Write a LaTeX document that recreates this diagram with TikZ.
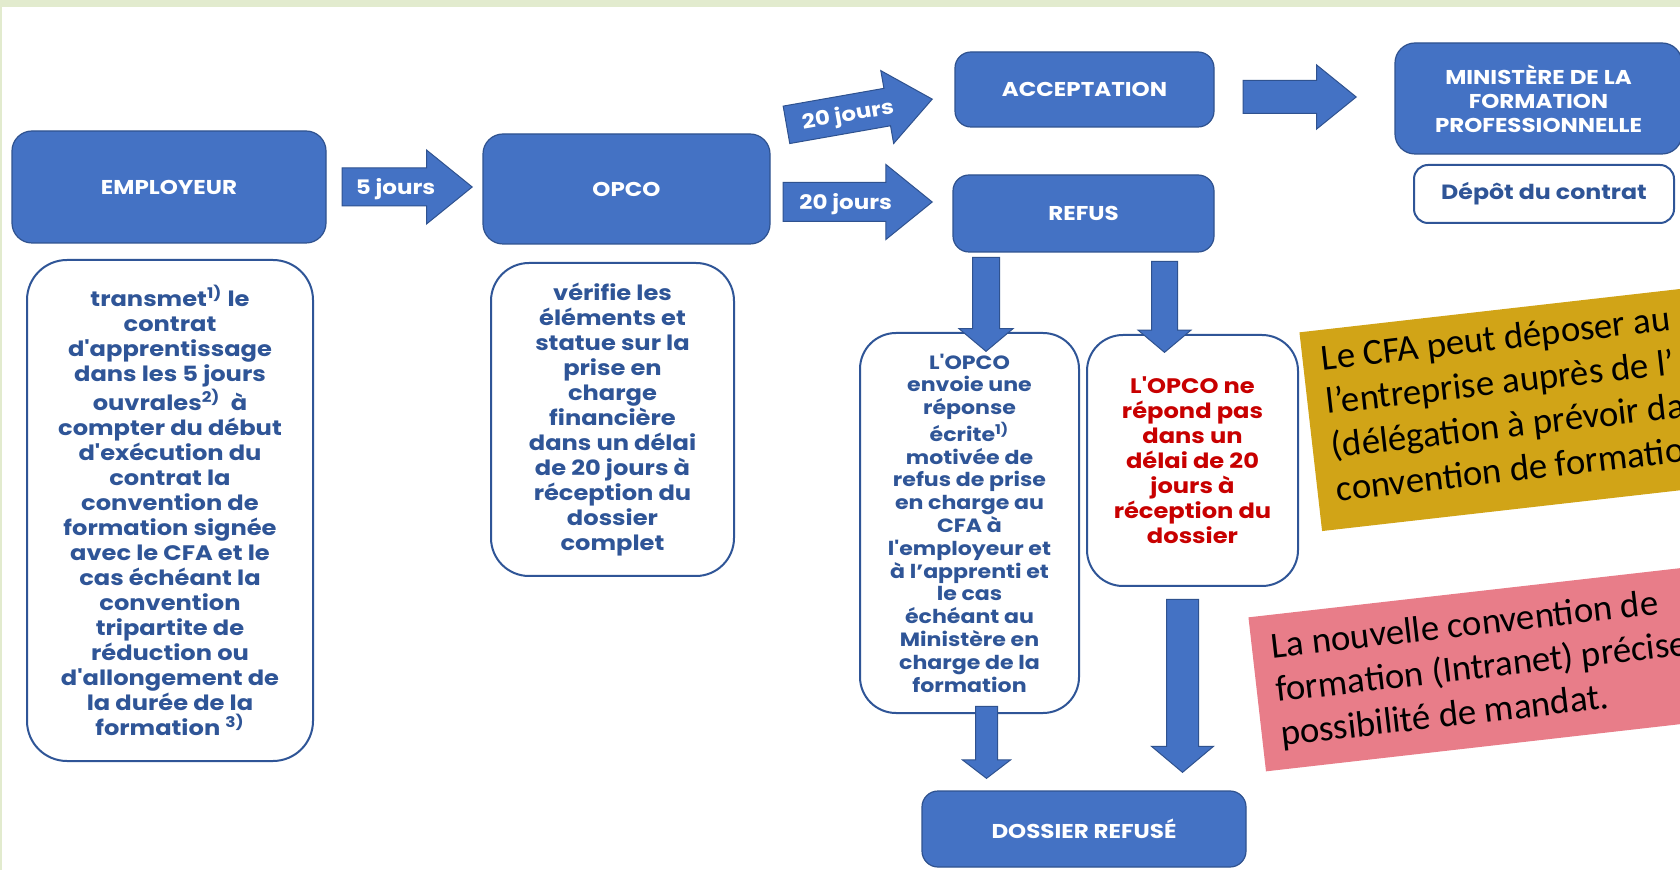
\documentclass[tikz,border=0pt]{standalone}
\usepackage{fontspec}
\usetikzlibrary{shapes.arrows}

\newfontfamily\gothic{Poppins}[FakeStretch=1.15]
\newfontfamily\calib{Carlito}

\definecolor{boxblue}{RGB}{68,114,196}
\definecolor{boxedge}{RGB}{47,82,143}
\definecolor{infoblue}{RGB}{47,85,151}
\definecolor{refusred}{RGB}{200,0,0}
\definecolor{notegold}{RGB}{209,164,23}
\definecolor{notepink}{RGB}{232,125,137}
\definecolor{bandgreen}{RGB}{226,235,206}

\begin{document}
\begin{tikzpicture}[x=0.5pt, y=-0.5pt,
  headbox/.style={rectangle, rounded corners=10pt, fill=boxblue, draw=boxedge,
    line width=0.6pt, text=white, align=center,
    font=\gothic\bfseries\fontsize{10}{12}\selectfont},
  infobox/.style={rectangle, rounded corners=19pt, fill=white, draw=infoblue,
    line width=1pt, text=infoblue, align=center,
    font=\gothic\bfseries\fontsize{10.5}{12.5}\selectfont},
  blockarrow/.style={single arrow, anchor=tip, fill=boxblue, draw=boxedge, line width=0.5pt,
    inner sep=0pt, text=white, single arrow tip angle=78,
    single arrow head extend=9pt, minimum width=36.5pt,
    text height=12.85pt, text depth=5.65pt,
    font=\gothic\bfseries\fontsize{10}{12}\selectfont},
  downarrow/.style={single arrow, anchor=tip, fill=boxblue, draw=boxedge, line width=0.5pt,
    inner sep=0pt, rotate=-90, single arrow tip angle=100},
  notebox/.style={rectangle, anchor=north west, rotate=6.5, inner xsep=9.5pt,
    align=flush left, text width=250pt, text=black,
    font=\calib\fontsize{18.4}{22}\selectfont}]

  \useasboundingbox (0,0) rectangle (1680,870);
  \clip (0,0) rectangle (1680,870);
  \fill[white] (0,0) rectangle (1680,870);
  \fill[bandgreen] (0,0) rectangle (1680,7.5);
  \fill[bandgreen] (0,0) rectangle (2,870);

  % employeur
  \node[headbox, minimum width=157pt, minimum height=56pt] (emp) at (169,187) {EMPLOYEUR};
  \node[infobox, rounded corners=20pt, minimum width=143pt, minimum height=250.5pt] (empdesc) at (170,510.5)
    {transmet\textsuperscript{1)} le\\contrat\\d'apprentissage\\dans les 5 jours\\ouvrales\textsuperscript{2)}\ \ à\\compter du début\\d'exécution du\\contrat la\\convention de\\formation signée\\avec le CFA et le\\cas échéant la\\convention\\tripartite de\\réduction ou\\d'allongement de\\la durée de la\\formation \textsuperscript{3)}};

  % opco
  \node[headbox, minimum width=143.5pt, minimum height=55pt] (opco) at (626.5,189) {OPCO};
  \node[infobox, minimum width=121.5pt, minimum height=156.5pt] (opcodesc) at (612.5,419.5)
    {vérifie les\\éléments et\\statue sur la\\prise en\\charge\\financière\\dans un délai\\de 20 jours à\\réception du\\dossier\\complet};

  % decision
  \node[headbox, rounded corners=8pt, minimum width=129.5pt, minimum height=37.5pt] (accept) at (1084.5,89.5) {ACCEPTATION};
  \node[headbox, rounded corners=8pt, minimum width=130.5pt, minimum height=38.5pt] (refus) at (1083.5,213.5) {REFUS};
  \node[headbox, minimum width=143.5pt, minimum height=55.5pt] (minist) at (1538.5,98.5)
    {MINISTÈRE DE LA\\FORMATION\\PROFESSIONNELLE};
  \node[infobox, rounded corners=7pt, minimum width=130pt, minimum height=29pt,
    font=\gothic\bfseries\fontsize{10.3}{12}\selectfont] (depot) at (1544,194) {Dépôt du contrat};

  % refus
  \node[infobox, rounded corners=18pt, minimum width=109.5pt, minimum height=190pt,
    font=\gothic\bfseries\fontsize{9.6}{11.4}\selectfont] (envoie) at (969.5,523)
    {L'OPCO\\envoie une\\réponse\\écrite\textsuperscript{1)}\\motivée de\\refus de prise\\en charge au\\CFA à\\l'employeur et\\à l’apprenti et\\le cas\\échéant au\\Ministère en\\charge de la\\formation};
  \node[infobox, rounded corners=18pt, minimum width=105.5pt, minimum height=125.5pt, text=refusred] (nerep) at (1192.5,460.5)
    {L'OPCO ne\\répond pas\\dans un\\délai de 20\\jours à\\réception du\\dossier};
  \node[headbox, rounded corners=8pt, minimum width=162pt, minimum height=38pt] (dossier) at (1084,829) {DOSSIER REFUSÉ};

  % arrows
  \node[blockarrow, minimum height=65pt] (a5) at (473,187) {5 jours};
  \node[blockarrow, minimum height=74pt, rotate=10] (a20up) at (933,99) {20 jours};
  \node[blockarrow, minimum height=74.5pt, text height=13.1pt, text depth=5.9pt] (a20dn) at (933,202) {20 jours};
  \node[blockarrow, minimum height=56.5pt, minimum width=31.5pt, single arrow head extend=7.75pt,
    text height=8pt, text depth=8pt] (amin) at (1357,97) {};
  \node[downarrow, minimum height=47pt, minimum width=26.5pt, single arrow head extend=6.75pt,
    text height=6.5pt, text depth=6.5pt] (dl1) at (986,352) {};
  \node[downarrow, minimum height=45.5pt, minimum width=26pt, single arrow head extend=6.75pt,
    text height=6.25pt, text depth=6.25pt] (dr1) at (1164.5,353) {};
  \node[downarrow, minimum height=36pt, minimum width=23.5pt, single arrow head extend=6.5pt,
    single arrow tip angle=105, text height=5.25pt, text depth=5.25pt] (dl2) at (986.5,779) {};
  \node[downarrow, minimum height=86.5pt, minimum width=30.5pt, single arrow head extend=7.5pt,
    text height=7.75pt, text depth=7.75pt] (dr2) at (1182.5,773) {};

  % notes
  \node[notebox, fill=notegold, minimum height=100pt] (cfanote) at (1299,332)
    {Le CFA peut déposer au\\l’entreprise auprès de l’\\(délégation à prévoir da\\convention de formatio\strut};
  \node[notebox, fill=notepink, minimum height=77.5pt] (mandatnote) at (1248,617)
    {La nouvelle convention de\\formation (Intranet) précise\\possibilité de mandat.};

\end{tikzpicture}
\end{document}
